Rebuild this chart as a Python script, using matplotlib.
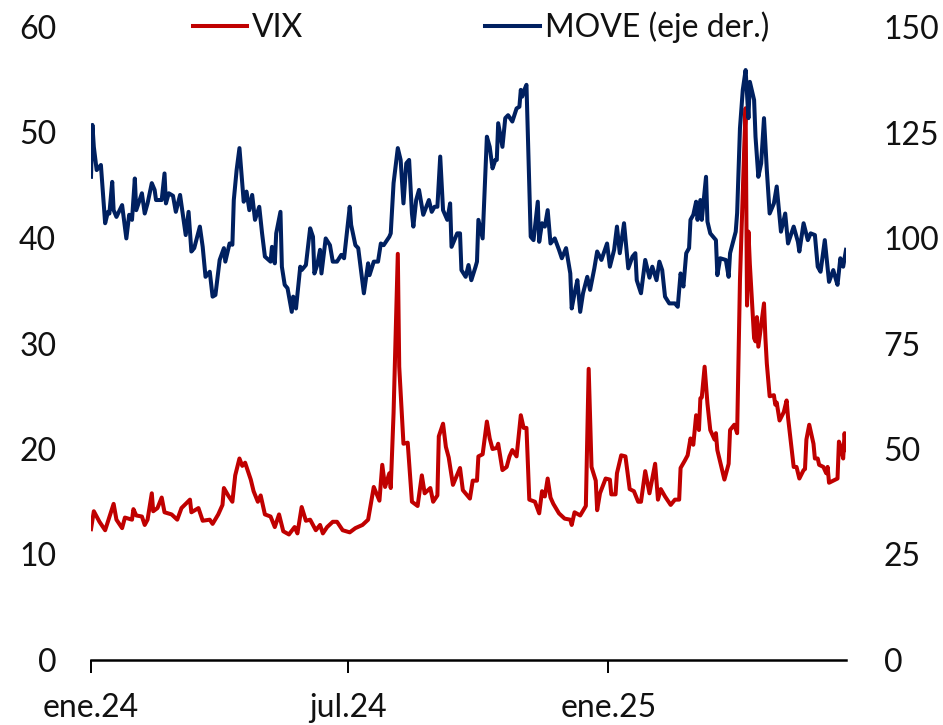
import matplotlib
matplotlib.use('Agg')
import matplotlib.pyplot as plt
import matplotlib.dates as mdates
from matplotlib.ticker import FuncFormatter
import pandas as pd

# VIX (left axis)
VIX_DATES = [
    '2024-01-01', '2024-01-03', '2024-01-07', '2024-01-11', '2024-01-17', '2024-01-19',
    '2024-01-23', '2024-01-25', '2024-01-30', '2024-01-31', '2024-02-02', '2024-02-06',
    '2024-02-08', '2024-02-10', '2024-02-13', '2024-02-14', '2024-02-17', '2024-02-20',
    '2024-02-22', '2024-02-27', '2024-03-02', '2024-03-05', '2024-03-11', '2024-03-12',
    '2024-03-17', '2024-03-20', '2024-03-25', '2024-03-27', '2024-03-31', '2024-04-03',
    '2024-04-04', '2024-04-07', '2024-04-10', '2024-04-12', '2024-04-15', '2024-04-17',
    '2024-04-19', '2024-04-23', '2024-04-25', '2024-04-28', '2024-04-30', '2024-05-03',
    '2024-05-07', '2024-05-10', '2024-05-13', '2024-05-16', '2024-05-20', '2024-05-24',
    '2024-05-26', '2024-05-29', '2024-06-01', '2024-06-04', '2024-06-08', '2024-06-11',
    '2024-06-13', '2024-06-16', '2024-06-20', '2024-06-23', '2024-06-27', '2024-07-02',
    '2024-07-06', '2024-07-11', '2024-07-15', '2024-07-19', '2024-07-23', '2024-07-25',
    '2024-07-27', '2024-07-30', '2024-07-31', '2024-08-02', '2024-08-05', '2024-08-06',
    '2024-08-09', '2024-08-12', '2024-08-15', '2024-08-19', '2024-08-22', '2024-08-24',
    '2024-08-28', '2024-08-30', '2024-09-02', '2024-09-03', '2024-09-06', '2024-09-08',
    '2024-09-10', '2024-09-13', '2024-09-18', '2024-09-20', '2024-09-25', '2024-09-27',
    '2024-09-30', '2024-10-01', '2024-10-04', '2024-10-07', '2024-10-09', '2024-10-11',
    '2024-10-14', '2024-10-15', '2024-10-18', '2024-10-21', '2024-10-23', '2024-10-25',
    '2024-10-28', '2024-10-31', '2024-11-02', '2024-11-04', '2024-11-06', '2024-11-10',
    '2024-11-13', '2024-11-15', '2024-11-17', '2024-11-19', '2024-11-21', '2024-11-23',
    '2024-11-27', '2024-12-01', '2024-12-05', '2024-12-06', '2024-12-08', '2024-12-12',
    '2024-12-16', '2024-12-18', '2024-12-20', '2024-12-23', '2024-12-24', '2024-12-26',
    '2024-12-30', '2025-01-02', '2025-01-03', '2025-01-06', '2025-01-07', '2025-01-10',
    '2025-01-13', '2025-01-16', '2025-01-19', '2025-01-22', '2025-01-24', '2025-01-27',
    '2025-01-30', '2025-02-03', '2025-02-05', '2025-02-07', '2025-02-10', '2025-02-14',
    '2025-02-17', '2025-02-20', '2025-02-21', '2025-02-24', '2025-02-26', '2025-02-28',
    '2025-03-02', '2025-03-04', '2025-03-06', '2025-03-07', '2025-03-08', '2025-03-10',
    '2025-03-12', '2025-03-14', '2025-03-17', '2025-03-18', '2025-03-19', '2025-03-24',
    '2025-03-27', '2025-03-28', '2025-03-31', '2025-04-02', '2025-04-03', '2025-04-04',
    '2025-04-07', '2025-04-08', '2025-04-09', '2025-04-10', '2025-04-11', '2025-04-14',
    '2025-04-15', '2025-04-16', '2025-04-17', '2025-04-21', '2025-04-22', '2025-04-23',
    '2025-04-24', '2025-04-25', '2025-04-28', '2025-04-29', '2025-04-30', '2025-05-02',
    '2025-05-05', '2025-05-07', '2025-05-08', '2025-05-12', '2025-05-14', '2025-05-16',
    '2025-05-19', '2025-05-20', '2025-05-21', '2025-05-23', '2025-05-26', '2025-05-27',
    '2025-05-29', '2025-05-30', '2025-06-02', '2025-06-04', '2025-06-05', '2025-06-06',
    '2025-06-09', '2025-06-12', '2025-06-13', '2025-06-14', '2025-06-16', '2025-06-17',
    '2025-06-18',
]
VIX = [
    12.4, 14.1, 13.1, 12.3, 14.8, 13.3,
    12.5, 13.5, 13.3, 14.3, 13.7, 13.6,
    12.8, 13.3, 15.8, 14.1, 14.4, 15.4,
    14.0, 13.8, 13.3, 14.4, 15.2, 14.0,
    14.4, 13.2, 13.3, 12.9, 13.8, 14.7,
    16.3, 15.6, 15.0, 17.5, 19.1, 18.4,
    18.7, 17.1, 16.0, 15.0, 15.6, 13.8,
    13.6, 12.6, 13.8, 12.2, 11.9, 12.6,
    12.0, 14.5, 13.2, 13.3, 12.3, 12.8,
    12.0, 12.6, 13.1, 13.1, 12.3, 12.1,
    12.5, 12.8, 13.3, 16.4, 15.1, 18.5,
    16.4, 17.7, 16.3, 23.4, 38.5, 27.8,
    20.5, 20.6, 15.0, 14.6, 17.5, 15.8,
    16.3, 15.0, 15.6, 21.2, 22.4, 20.2,
    19.2, 16.6, 18.2, 16.1, 15.3, 17.0,
    17.0, 19.3, 19.5, 22.6, 21.0, 20.0,
    20.1, 20.5, 18.0, 18.3, 19.3, 19.9,
    19.3, 23.2, 22.0, 22.0, 15.2, 15.0,
    13.9, 16.0, 15.5, 17.2, 15.4, 14.8,
    13.9, 13.4, 13.3, 12.8, 14.0, 13.7,
    14.6, 27.6, 18.3, 17.0, 14.2, 15.8,
    17.2, 17.1, 15.7, 15.7, 17.7, 19.4,
    19.3, 16.2, 16.0, 15.0, 15.0, 17.9,
    15.8, 18.6, 15.2, 16.2, 15.5, 14.7,
    15.2, 15.2, 18.2, 18.9, 19.4, 21.0,
    20.4, 23.2, 21.8, 24.8, 24.9, 27.8,
    24.3, 21.8, 20.9, 21.5, 19.9, 17.1,
    18.6, 21.8, 22.3, 21.5, 28.5, 36.0,
    48.5, 52.3, 33.6, 40.6, 37.5, 30.5,
    30.2, 32.5, 29.7, 33.8, 30.5, 28.1,
    26.5, 25.0, 25.1, 24.2, 24.4, 22.7,
    23.5, 24.6, 23.0, 18.3, 18.3, 17.2,
    18.0, 18.1, 20.9, 22.3, 20.5, 19.1,
    19.1, 18.5, 18.3, 17.7, 18.3, 16.8,
    17.0, 17.2, 20.7, 20.3, 19.1, 21.5,
    19.9,
]

# MOVE (right axis)
MOVE_DATES = [
    '2024-01-01', '2024-01-02', '2024-01-03', '2024-01-05', '2024-01-08', '2024-01-11',
    '2024-01-13', '2024-01-14', '2024-01-16', '2024-01-17', '2024-01-19', '2024-01-23',
    '2024-01-26', '2024-01-28', '2024-01-30', '2024-02-01', '2024-02-02', '2024-02-06',
    '2024-02-08', '2024-02-10', '2024-02-13', '2024-02-15', '2024-02-16', '2024-02-20',
    '2024-02-22', '2024-02-23', '2024-02-25', '2024-02-28', '2024-03-01', '2024-03-04',
    '2024-03-06', '2024-03-08', '2024-03-10', '2024-03-12', '2024-03-14', '2024-03-18',
    '2024-03-20', '2024-03-22', '2024-03-25', '2024-03-27', '2024-03-29', '2024-04-01',
    '2024-04-04', '2024-04-05', '2024-04-08', '2024-04-10', '2024-04-11', '2024-04-13',
    '2024-04-15', '2024-04-18', '2024-04-20', '2024-04-22', '2024-04-24', '2024-04-26',
    '2024-04-29', '2024-05-01', '2024-05-03', '2024-05-07', '2024-05-08', '2024-05-10',
    '2024-05-11', '2024-05-14', '2024-05-15', '2024-05-17', '2024-05-19', '2024-05-22',
    '2024-05-23', '2024-05-25', '2024-05-28', '2024-05-29', '2024-06-01', '2024-06-04',
    '2024-06-06', '2024-06-07', '2024-06-09', '2024-06-11', '2024-06-12', '2024-06-15',
    '2024-06-18', '2024-06-20', '2024-06-23', '2024-06-26', '2024-06-28', '2024-07-02',
    '2024-07-03', '2024-07-06', '2024-07-08', '2024-07-12', '2024-07-15', '2024-07-16',
    '2024-07-19', '2024-07-22', '2024-07-24', '2024-07-26', '2024-07-30', '2024-07-31',
    '2024-08-02', '2024-08-05', '2024-08-07', '2024-08-09', '2024-08-11', '2024-08-13',
    '2024-08-15', '2024-08-16', '2024-08-18', '2024-08-20', '2024-08-23', '2024-08-27',
    '2024-08-29', '2024-08-31', '2024-09-02', '2024-09-04', '2024-09-06', '2024-09-09',
    '2024-09-11', '2024-09-12', '2024-09-16', '2024-09-18', '2024-09-19', '2024-09-22',
    '2024-09-24', '2024-09-26', '2024-09-29', '2024-09-30', '2024-10-01', '2024-10-04',
    '2024-10-07', '2024-10-09', '2024-10-11', '2024-10-13', '2024-10-14', '2024-10-15',
    '2024-10-18', '2024-10-20', '2024-10-22', '2024-10-25', '2024-10-28', '2024-10-30',
    '2024-10-31', '2024-11-01', '2024-11-02', '2024-11-04', '2024-11-07', '2024-11-09',
    '2024-11-12', '2024-11-13', '2024-11-15', '2024-11-17', '2024-11-19', '2024-11-21',
    '2024-11-24', '2024-11-27', '2024-11-29', '2024-12-02', '2024-12-05', '2024-12-06',
    '2024-12-08', '2024-12-10', '2024-12-12', '2024-12-14', '2024-12-17', '2024-12-19',
    '2024-12-22', '2024-12-24', '2024-12-27', '2024-12-31', '2025-01-02', '2025-01-05',
    '2025-01-07', '2025-01-09', '2025-01-12', '2025-01-15', '2025-01-18', '2025-01-20',
    '2025-01-21', '2025-01-24', '2025-01-27', '2025-01-30', '2025-02-01', '2025-02-04',
    '2025-02-06', '2025-02-08', '2025-02-10', '2025-02-13', '2025-02-17', '2025-02-19',
    '2025-02-21', '2025-02-23', '2025-02-25', '2025-02-27', '2025-02-28', '2025-03-02',
    '2025-03-04', '2025-03-05', '2025-03-07', '2025-03-08', '2025-03-11', '2025-03-12',
    '2025-03-14', '2025-03-18', '2025-03-19', '2025-03-21', '2025-03-25', '2025-03-27',
    '2025-03-28', '2025-04-01', '2025-04-02', '2025-04-04', '2025-04-06', '2025-04-08',
    '2025-04-10', '2025-04-11', '2025-04-14', '2025-04-15', '2025-04-17', '2025-04-19',
    '2025-04-21', '2025-04-23', '2025-04-25', '2025-04-28', '2025-04-30', '2025-05-03',
    '2025-05-06', '2025-05-08', '2025-05-10', '2025-05-12', '2025-05-15', '2025-05-16',
    '2025-05-19', '2025-05-22', '2025-05-24', '2025-05-27', '2025-05-29', '2025-05-31',
    '2025-06-03', '2025-06-06', '2025-06-09', '2025-06-11', '2025-06-12', '2025-06-14',
    '2025-06-16', '2025-06-18',
]
MOVE = [
    114.5, 126.8, 121.6, 116.1, 117.3, 103.5,
    106.2, 105.8, 113.3, 106.6, 105.0, 107.8,
    99.9, 105.5, 104.3, 114.1, 106.6, 110.6,
    105.8, 108.2, 113.0, 111.4, 109.0, 109.0,
    115.3, 108.2, 110.6, 110.0, 106.2, 110.2,
    105.5, 100.7, 106.2, 96.8, 97.6, 102.7,
    97.9, 90.8, 92.0, 86.1, 86.5, 94.8,
    97.6, 94.4, 98.7, 98.4, 109.0, 116.1,
    121.3, 108.6, 111.0, 106.6, 110.2, 104.3,
    107.4, 101.1, 95.6, 94.4, 97.9, 94.0,
    101.1, 106.2, 93.2, 88.9, 88.1, 82.5,
    86.1, 83.3, 93.2, 92.4, 93.6, 102.3,
    100.3, 91.6, 93.6, 97.2, 91.6, 99.9,
    98.3, 94.4, 94.4, 96.0, 95.2, 107.4,
    103.1, 98.3, 97.6, 86.9, 94.0, 91.2,
    94.4, 94.4, 98.7, 98.3, 100.3, 101.1,
    113.0, 121.3, 118.5, 108.2, 117.7, 118.5,
    105.8, 102.7, 109.0, 111.4, 105.5, 109.0,
    106.2, 107.4, 107.4, 119.3, 106.6, 104.3,
    108.2, 97.9, 101.1, 101.1, 92.4, 90.8,
    93.6, 90.0, 93.2, 94.4, 104.3, 99.9,
    124.0, 121.6, 116.5, 118.5, 118.5, 127.2,
    121.6, 128.4, 129.1, 127.6, 130.7, 131.1,
    135.1, 133.5, 134.7, 136.3, 100.3, 99.5,
    108.6, 99.1, 103.5, 102.7, 106.6, 98.7,
    99.9, 97.2, 95.2, 97.6, 91.6, 83.3,
    86.9, 90.0, 82.5, 86.9, 90.8, 87.7,
    92.8, 96.8, 94.8, 98.7, 93.2, 97.2,
    102.7, 96.4, 103.5, 92.8, 95.6, 96.4,
    90.0, 86.9, 94.8, 90.6, 93.2, 90.0,
    94.4, 92.4, 86.1, 84.5, 84.5, 83.7,
    91.6, 88.5, 96.4, 97.6, 104.3, 105.5,
    108.6, 104.3, 109.0, 104.3, 114.5, 103.9,
    101.1, 99.5, 91.2, 95.2, 94.8, 90.8,
    96.4, 101.5, 105.9, 126.0, 135.1, 139.8,
    128.4, 137.0, 132.7, 124.0, 114.5, 117.7,
    128.4, 116.1, 105.8, 108.2, 112.2, 101.5,
    105.8, 98.7, 100.7, 102.7, 99.1, 96.8,
    103.5, 99.5, 101.1, 100.7, 93.2, 92.0,
    99.5, 89.6, 92.4, 90.0, 88.9, 95.2,
    93.2, 97.2,
]

MESES = {1: 'ene', 7: 'jul'}
RED = '#C00000'
NAVY = '#002060'
TXT = '#111111'
FS = 23

plt.rcParams['font.family'] = ['Lato', 'DejaVu Sans']

fig = plt.figure(figsize=(9.43, 7.25), dpi=100)
W, H = 943, 725
ax = fig.add_axes([91 / W, (H - 660) / H, (846 - 91) / W, (660 - 27) / H])
ax2 = ax.twinx()

l1, = ax.plot(pd.to_datetime(VIX_DATES), VIX, color=RED, lw=2.9,
              solid_joinstyle='round', label='VIX')
l2, = ax2.plot(pd.to_datetime(MOVE_DATES), MOVE, color=NAVY, lw=2.9,
               solid_joinstyle='round', label='MOVE (eje der.)')

ax.set_ylim(0, 60)
ax2.set_ylim(0, 150)
ax.set_yticks(range(0, 61, 10))
ax2.set_yticks(range(0, 151, 25))
ax.set_xlim(pd.Timestamp('2024-01-01'), pd.Timestamp('2025-06-18'))
ax.xaxis.set_major_locator(mdates.MonthLocator(bymonth=[1, 7]))
ax.xaxis.set_major_formatter(FuncFormatter(
    lambda x, _: f"{MESES[mdates.num2date(x).month]}.{mdates.num2date(x):%y}"))

for a in (ax, ax2):
    for s in a.spines.values():
        s.set_visible(False)
ax.spines['bottom'].set_visible(True)
ax.spines['bottom'].set_linewidth(1.8)
ax.spines['bottom'].set_color('black')

ax.tick_params(axis='x', length=9, width=1.4, color='black', labelsize=FS,
               labelcolor=TXT, pad=15)
ax.tick_params(axis='y', length=0, labelsize=FS, labelcolor=TXT, pad=25)
ax2.tick_params(axis='y', length=0, labelsize=FS, labelcolor=TXT, pad=27)

fig.legend([l1, l2], ['VIX', 'MOVE (eje der.)'], loc='center',
           bbox_to_anchor=(481 / W, 1 - 27.5 / H), ncol=2, frameon=False,
           fontsize=FS, handlelength=1.7, handletextpad=0.15, columnspacing=5.7,
           labelcolor=TXT)

fig.savefig('out.png', dpi=100)
